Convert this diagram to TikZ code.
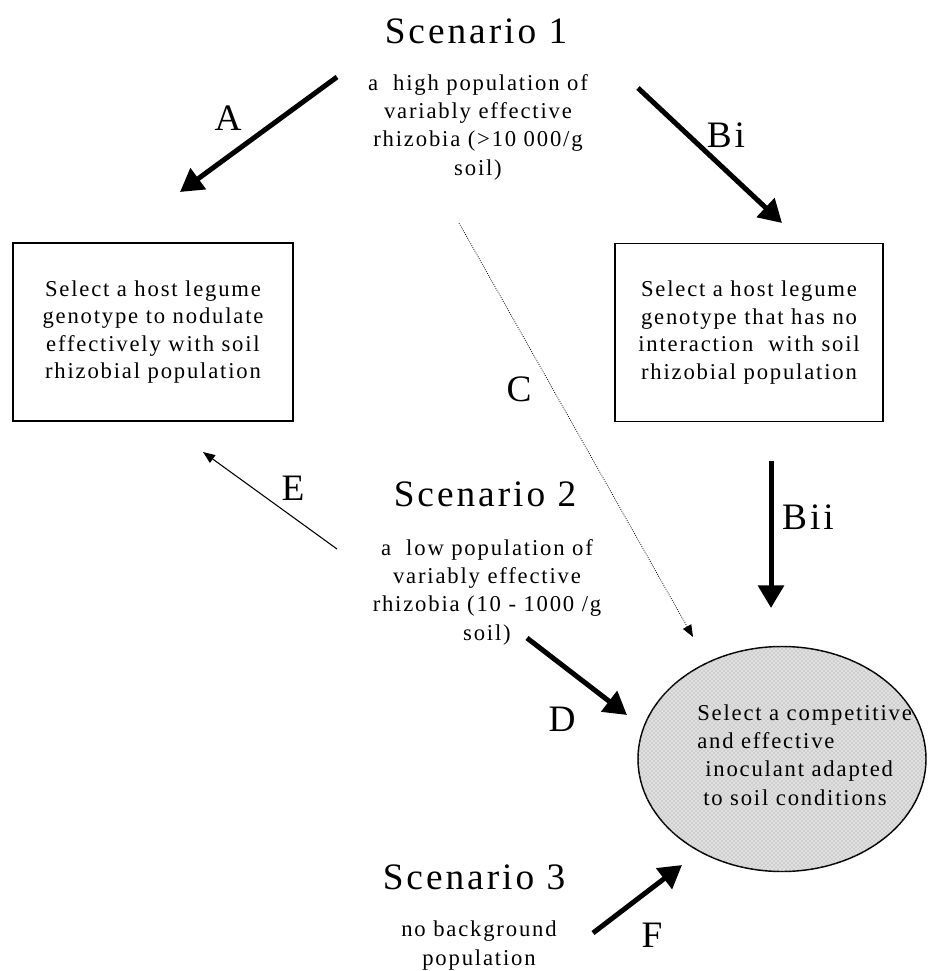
\documentclass[tikz,border=0pt]{standalone}
\usepackage{fontspec}
\setmainfont{Liberation Serif}
\newfontfamily\spaced[LetterSpace=8]{Liberation Serif}
\usepackage{tikz}
\usetikzlibrary{shapes.geometric}
\usetikzlibrary{arrows.meta}
\usetikzlibrary{patterns}

\begin{document}
\begin{tikzpicture}[x=0.75pt, y=-0.75pt,
    scen/.style={font=\spaced\fontsize{28}{32}\selectfont,inner sep=0pt,anchor=base},
    lbl/.style={font=\spaced\fontsize{28}{32}\selectfont,inner sep=0pt},
    body/.style={font=\spaced\fontsize{17}{21.2}\selectfont,align=center,
        inner sep=0pt,anchor=base},
    choicebox/.style={draw,line width=1.1pt,minimum width=#1,minimum height=133.5pt,
        font=\spaced\fontsize{17}{20.6}\selectfont,align=center,inner sep=0pt},
    bigarrow/.style={line width=3.75pt,-{Triangle[length=17pt,width=19pt]}},
    thinarrow/.style={line width=0.8pt,-{Triangle[length=9pt,width=7pt]}}]

\useasboundingbox (0,0) rectangle (928,971);

% the three scenarios (body nodes sit on their last line)
\node[scen] (scen1) at (476,43) {Scenario 1};
\node[body] (pop1) at (478,175)
    {a\ \ high population of\\variably effective\\rhizobia (>10 000/g\\soil)};
\node[scen] (scen2) at (485,506) {Scenario 2};
\node[body] (pop2) at (487,640)
    {a\ \ low population of\\variably effective\\rhizobia (10 - 1000 /g\\soil)};
\node[scen] (scen3) at (474,889) {Scenario 3};
\node[body] (pop3) at (479,965) {no background\\population};

% the choices
\node[choicebox=210pt] (hostA) at (153,332)
    {Select a host legume\\genotype to nodulate\\effectively with soil\\rhizobial population};
\node[choicebox=201pt] (hostB) at (749,332.5)
    {Select a host legume\\genotype that has no\\interaction\ \ with soil\\rhizobial population};
\node[ellipse,draw,line width=1.1pt,fill=black!12,
      postaction={pattern=crosshatch dots,pattern color=black!40},
      minimum width=216pt,minimum height=168.75pt,inner sep=0pt] (inoc) at (782,759) {};
\node[body,align=left,anchor=base west] (inoctxt) at (697,805)
    {Select a competitive\\and effective\\\hspace*{6pt}inoculant adapted\\\hspace*{4.5pt}to soil conditions};

% arrow ends
\coordinate (aS) at (337,77);   \coordinate (aE) at (180,192);
\coordinate (biS) at (638,88);  \coordinate (biE) at (782,223);
\coordinate (cS) at (459,223);  \coordinate (cE) at (693,637);
\coordinate (eS) at (337,549);  \coordinate (eE) at (203,452);
\coordinate (biiS) at (771,461); \coordinate (biiE) at (771,608);
\coordinate (dS) at (527,638);  \coordinate (dE) at (627,715);
\coordinate (fS) at (593,933);  \coordinate (fE) at (682,865);

\draw[bigarrow] (aS) -- (aE);
\draw[bigarrow] (biS) -- (biE);
\draw[thinarrow,line width=0.6pt,densely dotted] (cS) -- (cE);
\draw[thinarrow] (eS) -- (eE);
\draw[bigarrow] (biiS) -- (biiE);
\draw[bigarrow] (dS) -- (dE);
\draw[bigarrow] (fS) -- (fE);

% arrow labels
\node[lbl] (lA) at (228,118) {A};
\node[lbl] (lBi) at (726,135) {Bi};
\node[lbl] (lC) at (519,389) {C};
\node[lbl] (lE) at (293,488) {E};
\node[lbl] (lBii) at (808,517) {Bii};
\node[lbl] (lD) at (562,719) {D};
\node[lbl] (lF) at (652,935) {F};

\end{tikzpicture}
\end{document}
